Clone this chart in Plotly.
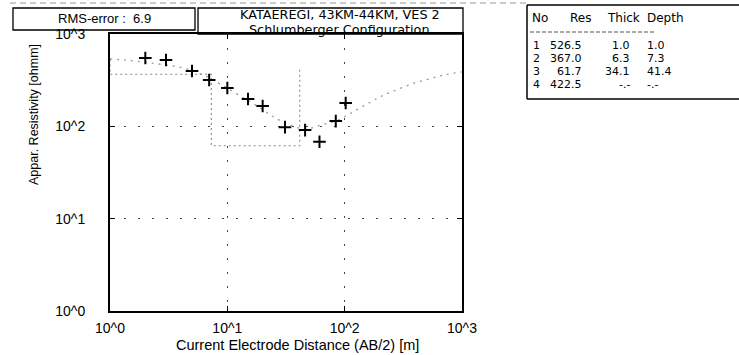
import plotly.graph_objects as go

# Measured apparent resistivity (field data)
ab2 = [2, 3, 5, 7, 10, 15, 20, 31, 46, 61, 84, 102]
rho_obs = [550, 522, 397, 318, 260, 198, 166, 98, 91, 68, 114, 179]

# Calculated (model response) curve
ab2_calc = [1, 1.34, 2.2, 4.2, 6.5, 8.7, 12.9, 19.1, 25.7, 34.5, 46.4, 62.4,
            83.8, 113, 167, 215, 290, 389, 522, 702, 1000]
rho_calc = [536, 522, 486, 428, 351, 287, 213, 158, 123, 103, 93.5, 103,
            114, 139, 184, 218, 254, 294, 326, 360, 388]

# Layer model
layer_no = [1, 2, 3, 4]
layer_res = [526.5, 367.0, 61.7, 422.5]
layer_thick = ["1.0", "6.3", "34.1", "-.-"]
layer_depth = [1.0, 7.3, 41.4]
layer_depth_txt = ["1.0", "7.3", "41.4", "-.-"]

x_ticks = [1, 10, 100, 1000]
x_ticktext = ["10^0", "10^1", "10^2", "10^3"]
y_ticks = [1, 10, 100, 1000]
y_ticktext = ["10^0", "10^1", "10^2", "10^3"]

FONT = "Arial, Liberation Sans, sans-serif"
WIDE = "DejaVu Sans, sans-serif"

# step line of the model
step_x = [0.5]
step_y = [layer_res[0]]
for i, d in enumerate(layer_depth):
    step_x += [d, d]
    step_y += [layer_res[i], layer_res[i + 1]]

fig = go.Figure()
fig.add_trace(go.Scatter(x=step_x, y=step_y, mode="lines",
                         line=dict(color="#888", width=1.1, dash="2px,3px"),
                         hoverinfo="skip", showlegend=False))
fig.add_trace(go.Scatter(x=ab2_calc, y=rho_calc, mode="lines",
                         line=dict(color="#999", width=1.3, dash="2px,5px", shape="spline"),
                         hoverinfo="skip", showlegend=False))
fig.add_trace(go.Scatter(x=ab2, y=rho_obs, mode="markers",
                         marker=dict(symbol="cross-thin", size=9,
                                     line=dict(color="black", width=2)),
                         showlegend=False))

axis_common = dict(type="log", showline=True, linecolor="black", linewidth=2,
                   mirror="ticks", ticks="inside", ticklen=5, tickcolor="black",
                   showgrid=True, gridcolor="#444", gridwidth=1.3,
                   griddash="2px,12px", zeroline=False,
                   tickfont=dict(family=FONT, size=14, color="black"))

fig.update_xaxes(range=[0, 3], tickvals=x_ticks, ticktext=x_ticktext,
                 ticklabelstandoff=3, **axis_common)
fig.update_yaxes(range=[0, 3], tickvals=y_ticks, ticktext=y_ticktext,
                 ticklabelstandoff=20, **axis_common)

W, H = 739, 355
L, R, T, B = 110, 277, 34, 44
pw, ph = W - L - R, H - T - B


def px(x):
    return (x - L) / pw


def py(y):
    return (H - B - y) / ph


shapes = [
    dict(type="rect", xref="paper", yref="paper", x0=px(13), x1=px(195),
         y0=py(30), y1=py(8), line=dict(color="black", width=1.3)),
    dict(type="rect", xref="paper", yref="paper", x0=px(198), x1=px(463),
         y0=py(34), y1=py(8), line=dict(color="black", width=1.3)),
    # top scan line
    dict(type="line", xref="paper", yref="paper", x0=px(10), x1=px(527),
         y0=py(3), y1=py(3), line=dict(color="#999", width=1, dash="6px,4px")),
    # table box
    dict(type="line", xref="paper", yref="paper", x0=px(527), x1=px(739),
         y0=py(5), y1=py(5), line=dict(color="black", width=1.5)),
    dict(type="line", xref="paper", yref="paper", x0=px(527), x1=px(527),
         y0=py(5), y1=py(99), line=dict(color="black", width=1.5)),
    dict(type="line", xref="paper", yref="paper", x0=px(527), x1=px(739),
         y0=py(99), y1=py(99), line=dict(color="black", width=1.3)),
    dict(type="line", xref="paper", yref="paper", x0=px(530), x1=px(655),
         y0=py(32), y1=py(32), line=dict(color="#555", width=1, dash="4px,2px")),
]


def ann(text, x, y, xanchor="center", size=14, angle=0, family=FONT):
    return dict(text=text, xref="paper", yref="paper", x=px(x), y=py(y),
                xanchor=xanchor, yanchor="middle", showarrow=False,
                textangle=angle, font=dict(family=family, size=size, color="black"))


annotations = [
    ann("RMS-error :  6.9", 104, 18.5, size=13),
    ann("KATAEREGI, 43KM-44KM, VES 2", 340, 14, size=12.8, family=WIDE),
    ann("Schlumberger Configuration", 339, 29.5, size=12.8, family=WIDE),
    ann("Current Electrode Distance (AB/2) [m]", 297, 345, size=14.5),
    ann("Appar. Resistivity [ohmm]", 34, 115, size=12.5, angle=-90),
    ann("No", 530, 18, xanchor="left", size=12, family=WIDE),
    ann("Res", 568, 18, xanchor="left", size=12, family=WIDE),
    ann("Thick", 605, 18, xanchor="left", size=12, family=WIDE),
    ann("Depth", 645, 18, xanchor="left", size=12, family=WIDE),
]
row_y = [46, 59, 72, 85]
for i in range(4):
    annotations.append(ann(str(layer_no[i]), 531, row_y[i], xanchor="left", size=11, family=WIDE))
    annotations.append(ann(f"{layer_res[i]:.1f}", 584, row_y[i], xanchor="right", size=11, family=WIDE))
    annotations.append(ann(layer_thick[i], 632, row_y[i], xanchor="right", size=11, family=WIDE))
    annotations.append(ann(layer_depth_txt[i], 645, row_y[i], xanchor="left", size=11, family=WIDE))

fig.update_layout(width=W, height=H, margin=dict(l=L, r=R, t=T, b=B),
                  paper_bgcolor="white", plot_bgcolor="white",
                  shapes=shapes, annotations=annotations, showlegend=False)

fig.write_html("out.html")
